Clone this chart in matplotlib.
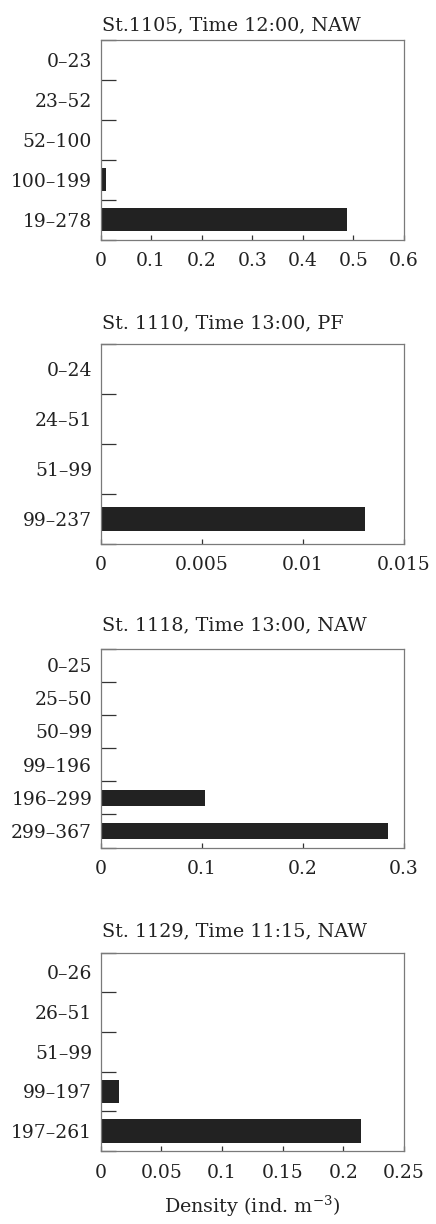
import matplotlib
matplotlib.use("Agg")
import matplotlib.pyplot as plt
from matplotlib.ticker import FixedLocator, NullFormatter, FixedFormatter

plt.rcParams['font.family'] = ['DejaVu Serif']
plt.rcParams['mathtext.fontset'] = 'dejavuserif'

# Station panels: titles, depth layers (m) and density (ind. m^-3)
titles = [
    "St.1105, Time 12:00, NAW",
    "St. 1110, Time 13:00, PF",
    "St. 1118, Time 13:00, NAW",
    "St. 1129, Time 11:15, NAW",
]

layers_1105 = ["0\u201323", "23\u201352", "52\u2013100", "100\u2013199", "19\u2013278"]
density_1105 = [0.0, 0.0, 0.0, 0.01, 0.487]

layers_1110 = ["0\u201324", "24\u201351", "51\u201399", "99\u2013237"]
density_1110 = [0.0, 0.0, 0.0, 0.01306]

layers_1118 = ["0\u201325", "25\u201350", "50\u201399", "99\u2013196", "196\u2013299", "299\u2013367"]
density_1118 = [0.0, 0.0, 0.0, 0.0, 0.103, 0.284]

layers_1129 = ["0\u201326", "26\u201351", "51\u201399", "99\u2013197", "197\u2013261"]
density_1129 = [0.0, 0.0, 0.0, 0.0151, 0.2143]

xticks_1105 = [0, 0.1, 0.2, 0.3, 0.4, 0.5, 0.6]
xticks_1110 = [0, 0.005, 0.01, 0.015]
xticks_1118 = [0, 0.1, 0.2, 0.3]
xticks_1129 = [0, 0.05, 0.1, 0.15, 0.2, 0.25]

xlabels_1105 = ["0", "0.1", "0.2", "0.3", "0.4", "0.5", "0.6"]
xlabels_1110 = ["0", "0.005", "0.01", "0.015"]
xlabels_1118 = ["0", "0.1", "0.2", "0.3"]
xlabels_1129 = ["0", "0.05", "0.1", "0.15", "0.2", "0.25"]

panels = [
    (layers_1105, density_1105, xticks_1105, xlabels_1105),
    (layers_1110, density_1110, xticks_1110, xlabels_1110),
    (layers_1118, density_1118, xticks_1118, xlabels_1118),
    (layers_1129, density_1129, xticks_1129, xlabels_1129),
]

W, H = 436, 1224
fig = plt.figure(figsize=(W / 100, H / 100), dpi=100)

# axes boxes in pixels: (top, bottom)
boxes = [(40, 239.5), (343.5, 543.5), (648.5, 847.5), (952.5, 1151)]
left_px, right_px = 100.5, 404
bar_heights = [0.58, 0.48, 0.49, 0.59]
title_pads = [6.8, 11.2, 13.3, 11.9]

bar_color = "#222222"
spine_color = "#7a7a7a"
tick_color = "#333333"
text_color = "#222222"

for (layers, dens, xt, xl), (top, bot), title, bh, tp in zip(
        panels, boxes, titles, bar_heights, title_pads):
    ax = fig.add_axes([left_px / W, 1 - bot / H, (right_px - left_px) / W, (bot - top) / H])
    n = len(layers)
    pos = [n - 1 - i + 0.5 for i in range(n)]
    ax.barh(pos, dens, height=bh, color=bar_color, edgecolor='none')
    ax.set_ylim(0, n)
    ax.set_xlim(xt[0], xt[-1])

    # layer boundaries as major ticks, layer names centred as minor ticks
    ax.yaxis.set_major_locator(FixedLocator(list(range(n + 1))))
    ax.yaxis.set_major_formatter(NullFormatter())
    ax.yaxis.set_minor_locator(FixedLocator(pos))
    ax.yaxis.set_minor_formatter(FixedFormatter(layers))
    ax.tick_params(axis='y', which='major', direction='in', length=11, width=0.9,
                   color=tick_color)
    ax.tick_params(axis='y', which='minor', length=0, pad=6, labelsize=13.5,
                   labelcolor=text_color)

    ax.set_xticks(xt)
    ax.set_xticklabels(xl)
    ax.tick_params(axis='x', direction='in', length=3.5, width=0.9, color=tick_color,
                   pad=9, labelsize=13.5, labelcolor=text_color)

    for s in ax.spines.values():
        s.set_color(spine_color)
        s.set_linewidth(0.9)

    ax.set_title(title, loc='left', fontsize=13.8, pad=tp, color=text_color, x=0.004)

ax.set_xlabel("Density (ind. m$^{-3}$)", fontsize=13.8, labelpad=9, color=text_color)

fig.savefig("out.png", dpi=100, facecolor='white')
